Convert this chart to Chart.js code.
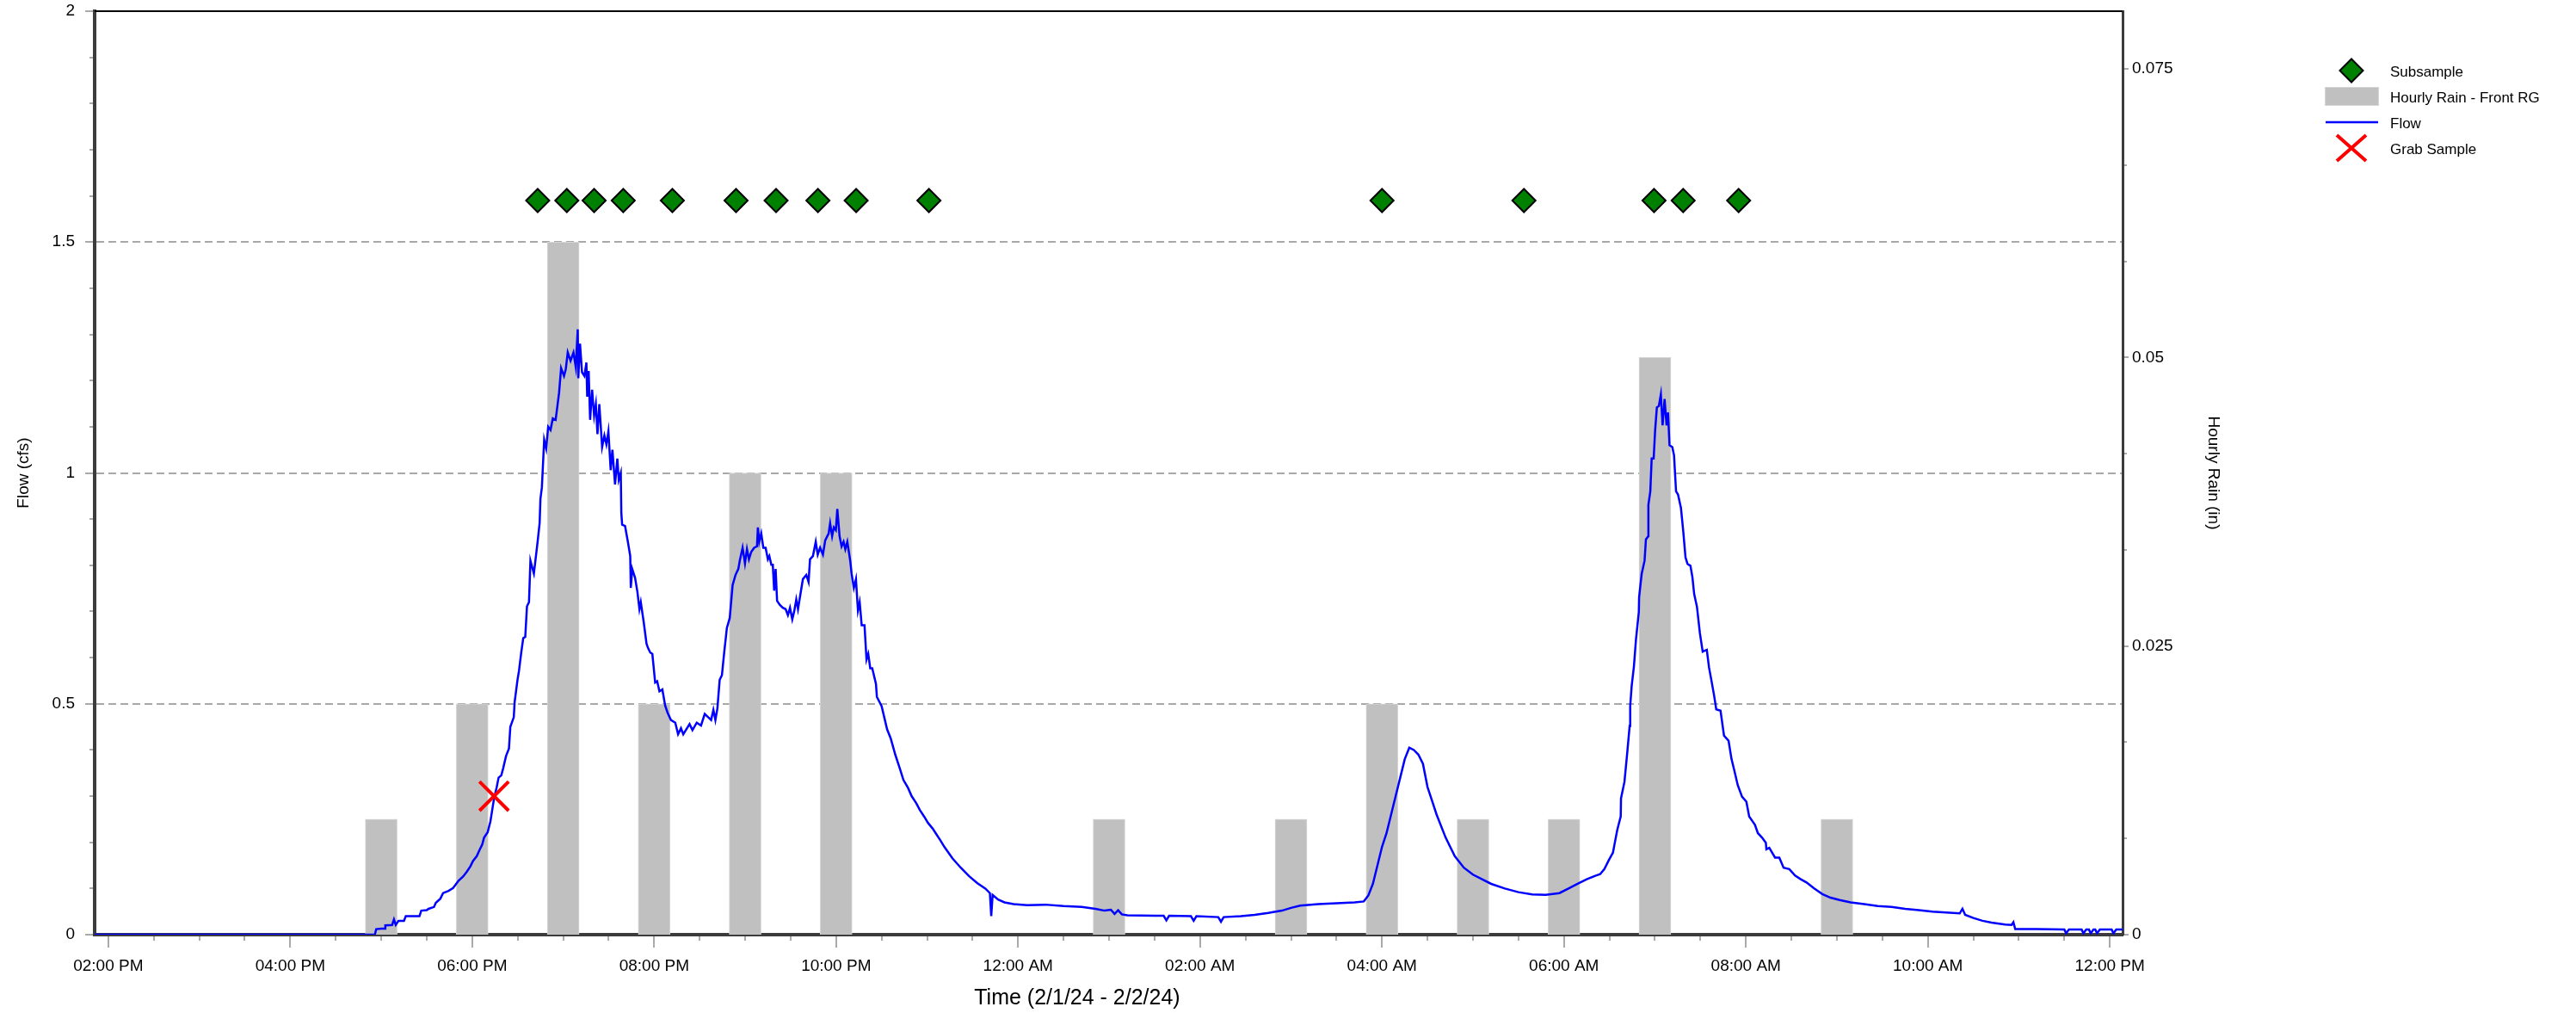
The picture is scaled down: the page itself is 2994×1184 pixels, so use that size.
<!DOCTYPE html>
<html>
<head>
<meta charset="utf-8">
<title>Flow and Hourly Rain</title>
<script src="https://cdn.jsdelivr.net/npm/chart.js@4.4.1/dist/chart.umd.min.js"></script>
<style>
    html, body { margin: 0; padding: 0; background: #fff; }
    #chart { display: block; }
</style>
</head>
<body>
<canvas id="chart" width="2994" height="1184"></canvas>
<script>
'use strict';

// times are hours after midnight on 2/1/24 (24 = midnight, 36 = noon on 2/2)
var flowReadings = [
    [13.85, 0], [16.93, 0], [16.945, 0.012], [17.0, 0.013], [17.04, 0.013], [17.045, 0.02],
    [17.12, 0.021], [17.14, 0.033], [17.16, 0.021], [17.19, 0.03], [17.25, 0.03], [17.27, 0.04],
    [17.42, 0.04], [17.44, 0.052], [17.5, 0.053], [17.52, 0.056], [17.58, 0.06], [17.6, 0.069],
    [17.65, 0.078], [17.68, 0.09], [17.74, 0.095], [17.79, 0.101], [17.85, 0.117], [17.9, 0.126],
    [17.94, 0.136], [17.98, 0.148], [18.01, 0.16], [18.05, 0.17], [18.08, 0.183], [18.11, 0.195],
    [18.13, 0.21], [18.17, 0.222], [18.2, 0.245], [18.22, 0.27], [18.24, 0.295], [18.27, 0.32],
    [18.29, 0.34], [18.32, 0.345], [18.34, 0.36], [18.372, 0.387], [18.404, 0.403], [18.419, 0.45],
    [18.457, 0.471], [18.466, 0.503], [18.498, 0.552], [18.514, 0.571], [18.539, 0.611], [18.561, 0.642],
    [18.583, 0.645], [18.602, 0.711], [18.624, 0.72], [18.64, 0.81], [18.678, 0.782], [18.719, 0.851],
    [18.741, 0.891], [18.75, 0.944], [18.766, 0.969], [18.791, 1.072], [18.813, 1.053], [18.835, 1.1],
    [18.861, 1.093], [18.886, 1.118], [18.917, 1.115], [18.939, 1.149], [18.955, 1.174], [18.977, 1.227],
    [19.009, 1.21], [19.028, 1.224], [19.05, 1.261], [19.081, 1.243], [19.113, 1.261], [19.138, 1.23],
    [19.16, 1.311], [19.166, 1.205], [19.185, 1.28], [19.207, 1.218], [19.233, 1.21], [19.255, 1.239],
    [19.264, 1.165], [19.28, 1.221], [19.296, 1.115], [19.318, 1.18], [19.34, 1.124], [19.359, 1.149],
    [19.377, 1.084], [19.397, 1.149], [19.428, 1.056], [19.453, 1.081], [19.475, 1.062], [19.497, 1.09],
    [19.522, 1.006], [19.541, 1.05], [19.57, 0.975], [19.595, 1.031], [19.611, 0.985], [19.633, 1.0],
    [19.639, 0.913], [19.648, 0.888], [19.68, 0.885], [19.711, 0.851], [19.737, 0.82], [19.743, 0.751],
    [19.759, 0.792], [19.79, 0.773], [19.816, 0.742], [19.838, 0.705], [19.853, 0.72], [19.885, 0.677],
    [19.916, 0.63], [19.932, 0.621], [19.957, 0.611], [19.98, 0.608], [20.011, 0.546], [20.033, 0.549],
    [20.058, 0.527], [20.09, 0.531], [20.121, 0.496], [20.147, 0.481], [20.184, 0.465], [20.232, 0.459],
    [20.263, 0.434], [20.295, 0.447], [20.32, 0.434], [20.348, 0.443], [20.389, 0.456], [20.421, 0.443],
    [20.468, 0.459], [20.515, 0.453], [20.556, 0.478], [20.594, 0.471], [20.626, 0.465], [20.651, 0.487],
    [20.673, 0.465], [20.695, 0.49], [20.72, 0.552], [20.745, 0.562], [20.768, 0.608], [20.799, 0.664],
    [20.831, 0.686], [20.862, 0.757], [20.894, 0.779], [20.925, 0.792], [20.941, 0.81], [20.972, 0.838],
    [20.998, 0.804], [21.02, 0.835], [21.042, 0.813], [21.067, 0.829], [21.099, 0.838], [21.13, 0.841],
    [21.14, 0.882], [21.155, 0.851], [21.177, 0.869], [21.2, 0.838], [21.225, 0.838], [21.25, 0.813],
    [21.266, 0.82], [21.288, 0.801], [21.304, 0.801], [21.319, 0.745], [21.335, 0.792], [21.351, 0.723],
    [21.382, 0.714], [21.414, 0.708], [21.445, 0.705], [21.47, 0.692], [21.493, 0.708], [21.518, 0.683],
    [21.54, 0.701], [21.562, 0.726], [21.581, 0.705], [21.609, 0.739], [21.635, 0.77], [21.672, 0.779],
    [21.697, 0.764], [21.713, 0.813], [21.745, 0.82], [21.776, 0.851], [21.798, 0.823], [21.824, 0.838],
    [21.855, 0.823], [21.88, 0.854], [21.918, 0.869], [21.934, 0.891], [21.956, 0.863], [21.975, 0.882],
    [21.997, 0.876], [22.013, 0.922], [22.038, 0.863], [22.06, 0.841], [22.082, 0.851], [22.101, 0.835],
    [22.123, 0.851], [22.155, 0.81], [22.17, 0.782], [22.195, 0.751], [22.218, 0.77], [22.24, 0.702],
    [22.259, 0.72], [22.281, 0.67], [22.312, 0.67], [22.334, 0.596], [22.353, 0.608], [22.375, 0.577],
    [22.397, 0.577], [22.438, 0.543], [22.448, 0.515], [22.5, 0.495], [22.53, 0.47], [22.56, 0.445],
    [22.6, 0.425], [22.65, 0.39], [22.7, 0.36], [22.74, 0.335], [22.79, 0.318], [22.83, 0.3],
    [22.88, 0.285], [22.92, 0.27], [22.97, 0.255], [23.01, 0.242], [23.06, 0.23], [23.1, 0.218],
    [23.15, 0.203], [23.19, 0.19], [23.24, 0.176], [23.28, 0.165], [23.37, 0.145], [23.46, 0.127],
    [23.55, 0.112], [23.64, 0.1], [23.69, 0.09], [23.705, 0.04], [23.72, 0.086], [23.78, 0.076],
    [23.85, 0.07], [23.95, 0.066], [24.1, 0.064], [24.3, 0.065], [24.5, 0.062], [24.7, 0.06],
    [24.85, 0.056], [24.95, 0.052], [25.02, 0.054], [25.06, 0.045], [25.1, 0.053], [25.14, 0.044],
    [25.2, 0.042], [25.5, 0.041], [25.6, 0.041], [25.63, 0.031], [25.66, 0.041], [25.9, 0.04],
    [25.93, 0.03], [25.96, 0.04], [26.2, 0.038], [26.23, 0.028], [26.26, 0.038], [26.45, 0.04],
    [26.6, 0.043], [26.75, 0.047], [26.9, 0.052], [27.0, 0.058], [27.1, 0.063], [27.3, 0.066],
    [27.5, 0.068], [27.7, 0.07], [27.8, 0.072], [27.85, 0.085], [27.9, 0.11], [27.95, 0.15],
    [28.0, 0.19], [28.05, 0.22], [28.1, 0.26], [28.15, 0.3], [28.2, 0.34], [28.25, 0.38],
    [28.3, 0.405], [28.35, 0.4], [28.4, 0.39], [28.45, 0.37], [28.5, 0.32], [28.55, 0.29],
    [28.6, 0.26], [28.7, 0.21], [28.8, 0.17], [28.9, 0.145], [29.0, 0.13], [29.1, 0.12],
    [29.2, 0.11], [29.35, 0.1], [29.5, 0.092], [29.65, 0.087], [29.8, 0.086], [29.95, 0.09],
    [30.05, 0.1], [30.15, 0.11], [30.25, 0.12], [30.35, 0.128], [30.397, 0.131], [30.444, 0.142],
    [30.492, 0.161], [30.539, 0.178], [30.555, 0.195], [30.586, 0.227], [30.624, 0.256], [30.627, 0.295],
    [30.665, 0.331], [30.696, 0.395], [30.722, 0.452], [30.728, 0.495], [30.744, 0.538], [30.769, 0.581],
    [30.791, 0.638], [30.823, 0.699], [30.826, 0.731], [30.854, 0.781], [30.886, 0.81], [30.901, 0.856],
    [30.927, 0.863], [30.928, 0.931], [30.949, 0.96], [30.964, 1.031], [30.986, 1.031], [31.002, 1.092],
    [31.021, 1.142], [31.043, 1.145], [31.065, 1.17], [31.084, 1.103], [31.106, 1.16], [31.128, 1.103],
    [31.144, 1.131], [31.16, 1.06], [31.191, 1.056], [31.21, 1.038], [31.232, 0.96], [31.254, 0.953],
    [31.286, 0.924], [31.311, 0.874], [31.336, 0.817], [31.358, 0.803], [31.39, 0.799], [31.412, 0.774],
    [31.431, 0.738], [31.462, 0.71], [31.494, 0.653], [31.525, 0.613], [31.57, 0.617], [31.595, 0.578],
    [31.626, 0.545], [31.651, 0.517], [31.674, 0.488], [31.721, 0.485], [31.759, 0.431], [31.809, 0.42],
    [31.841, 0.381], [31.872, 0.356], [31.91, 0.324], [31.957, 0.299], [32.005, 0.288], [32.036, 0.256],
    [32.099, 0.238], [32.131, 0.22], [32.178, 0.21], [32.219, 0.199], [32.225, 0.185], [32.257, 0.188],
    [32.32, 0.167], [32.367, 0.167], [32.414, 0.145], [32.477, 0.142], [32.54, 0.128], [32.603, 0.12],
    [32.666, 0.113], [32.75, 0.1], [32.84, 0.088], [32.93, 0.08], [33.03, 0.075], [33.15, 0.07],
    [33.3, 0.066], [33.45, 0.062], [33.6, 0.06], [33.75, 0.056], [33.9, 0.053], [34.05, 0.05],
    [34.2, 0.048], [34.35, 0.046], [34.38, 0.056], [34.41, 0.043], [34.5, 0.036], [34.6, 0.03],
    [34.7, 0.026], [34.85, 0.022], [34.92, 0.021], [34.94, 0.027], [34.96, 0.012], [35.2, 0.012],
    [35.5, 0.011], [35.52, 0.003], [35.55, 0.011], [35.69, 0.011], [35.71, 0.003], [35.74, 0.011],
    [35.77, 0.011], [35.79, 0.003], [35.82, 0.011], [35.84, 0.011], [35.86, 0.003], [35.89, 0.011],
    [36.02, 0.011], [36.04, 0.003], [36.07, 0.011], [36.14, 0.011]
];

// hourly rain totals, Front RG
var rainHours = [17, 18, 19, 20, 21, 22, 25, 27, 28, 29, 30, 31, 33];
var rainInches = [0.01, 0.02, 0.06, 0.02, 0.04, 0.04, 0.01, 0.01, 0.02, 0.01, 0.01, 0.05, 0.01];

// subsample pulls, shown as a row of markers at a fixed flow level
var subsampleHours = [18.72, 19.04, 19.34, 19.66, 20.2, 20.9, 21.34, 21.8, 22.22, 23.02,
    28.0, 29.56, 30.99, 31.31, 31.92];
var subsampleLevel = 1.59;

var grabHours = [18.24];
var grabCfs = [0.3];

var timeTicks = [14, 16, 18, 20, 22, 24, 26, 28, 30, 32, 34, 36];
var timeLabels = ['02:00 PM', '04:00 PM', '06:00 PM', '08:00 PM', '10:00 PM', '12:00 AM',
    '02:00 AM', '04:00 AM', '06:00 AM', '08:00 AM', '10:00 AM', '12:00 PM'];
var flowTicks = [0, 0.5, 1, 1.5, 2];
var flowLabels = ['0', '0.5', '1', '1.5', '2'];
var rainTicks = [0, 0.025, 0.05, 0.075];
var rainLabels = ['0', '0.025', '0.05', '0.075'];

var FONT = '"Liberation Sans", Arial, Helvetica, sans-serif';
var TIME_TITLE = 'Time (2/1/24 - 2/2/24)';

Chart.defaults.font.family = FONT;
Chart.defaults.color = '#000';

// short/long tick marks on all three axes, the top edge of the box and the time title
var axisMarks = {
    id: 'axisMarks',
    afterDraw: function (chart) {
        var ctx = chart.ctx;
        var area = chart.chartArea;
        var x = chart.scales.x;
        var y = chart.scales.y;
        var y1 = chart.scales.y1;
        var i, p;

        ctx.save();
        ctx.strokeStyle = '#000';
        ctx.lineWidth = 2;
        ctx.beginPath();
        ctx.moveTo(area.left, area.top);
        ctx.lineTo(area.right, area.top);
        ctx.stroke();

        ctx.strokeStyle = '#aaaaaa';
        ctx.lineWidth = 2;
        ctx.beginPath();
        for (i = 0; i <= 44; i++) {
            p = Math.round(x.getPixelForValue(14 + i / 2));
            ctx.moveTo(p, area.bottom + 2);
            ctx.lineTo(p, area.bottom + (i % 4 === 0 ? 15 : 7));
        }
        for (i = 0; i <= 20; i++) {
            p = Math.round(y.getPixelForValue(i / 10));
            ctx.moveTo(area.left - 2, p);
            ctx.lineTo(area.left - (i % 5 === 0 ? 11 : 6), p);
        }
        for (i = 0; i <= 9; i++) {
            p = Math.round(y1.getPixelForValue(i * 0.025 / 3));
            ctx.moveTo(area.right + 2, p);
            ctx.lineTo(area.right + (i % 3 === 0 ? 7 : 5), p);
        }
        ctx.stroke();

        ctx.fillStyle = '#000';
        ctx.font = '25px ' + FONT;
        ctx.textAlign = 'center';
        ctx.textBaseline = 'middle';
        ctx.fillText(TIME_TITLE, area.left + area.width * 0.4845, chart.height - 24);
        ctx.restore();
    }
};

// legend to the right of the rain axis, using each dataset's own colours
var sideLegend = {
    id: 'sideLegend',
    afterDraw: function (chart) {
        var ctx = chart.ctx;
        var sets = chart.data.datasets;
        var cx = chart.chartArea.right + 266;
        var tx = chart.chartArea.right + 311;
        var top = 82;
        var step = 30;

        ctx.save();
        sets.forEach(function (ds) {
            var cy = top + ds.legendRow * step;
            ctx.beginPath();
            if (ds.legendRow === 0) {
                ctx.moveTo(cx - 13.5, cy);
                ctx.lineTo(cx, cy - 13.5);
                ctx.lineTo(cx + 13.5, cy);
                ctx.lineTo(cx, cy + 13.5);
                ctx.closePath();
                ctx.fillStyle = ds.backgroundColor;
                ctx.fill();
                ctx.lineWidth = ds.borderWidth;
                ctx.strokeStyle = ds.borderColor;
                ctx.stroke();
            } else if (ds.legendRow === 1) {
                ctx.fillStyle = ds.backgroundColor;
                ctx.fillRect(cx - 31, cy - 11, 63, 22);
                ctx.lineWidth = 1;
                ctx.strokeStyle = ds.borderColor;
                ctx.strokeRect(cx - 30.5, cy - 10.5, 62, 21);
            } else if (ds.legendRow === 2) {
                ctx.moveTo(cx - 30, cy);
                ctx.lineTo(cx + 31, cy);
                ctx.lineWidth = ds.borderWidth;
                ctx.strokeStyle = ds.borderColor;
                ctx.stroke();
            } else {
                ctx.moveTo(cx - 17, cy - 15);
                ctx.lineTo(cx + 17, cy + 15);
                ctx.moveTo(cx + 17, cy - 15);
                ctx.lineTo(cx - 17, cy + 15);
                ctx.lineWidth = ds.borderWidth;
                ctx.strokeStyle = ds.borderColor;
                ctx.stroke();
            }
            ctx.fillStyle = '#000';
            ctx.font = '17px ' + FONT;
            ctx.textAlign = 'left';
            ctx.textBaseline = 'middle';
            ctx.fillText(ds.label, tx, cy + 2.5);
        });
        ctx.restore();
    }
};

drawChart();

function pairs(xs, ys) {
    return xs.map(function (v, i) { return { x: v, y: ys[i] }; });
}

// vertical axes: fixed width, and no extra room reserved above/below for the end labels
function fitSide(width) {
    return function (s) {
        s.width = width;
        s.paddingTop = 0;
        s.paddingBottom = 0;
    };
}

function drawChart() {
    var ctx = document.getElementById('chart').getContext('2d');
    var myChart = new Chart(ctx, {
        data: {
            datasets: [{
                type: 'scatter',
                label: 'Subsample',
                legendRow: 0,
                order: 1,
                yAxisID: 'y',
                data: subsampleHours.map(function (h) { return { x: h, y: subsampleLevel }; }),
                pointStyle: 'rectRot',
                pointRadius: 13.5,
                pointHoverRadius: 13.5,
                backgroundColor: '#008000',
                borderColor: '#000',
                borderWidth: 2
            }, {
                type: 'bar',
                label: 'Hourly Rain - Front RG',
                legendRow: 1,
                order: 4,
                yAxisID: 'y1',
                data: pairs(rainHours, rainInches),
                barThickness: 37,
                backgroundColor: '#c0c0c0',
                borderColor: '#d6d6d6',
                borderWidth: 1
            }, {
                type: 'line',
                label: 'Flow',
                legendRow: 2,
                order: 2,
                yAxisID: 'y',
                data: flowReadings.map(function (r) { return { x: r[0], y: r[1] }; }),
                borderColor: '#0000ff',
                borderWidth: 2.5,
                pointRadius: 0,
                tension: 0,
                fill: false
            }, {
                type: 'scatter',
                label: 'Grab Sample',
                legendRow: 3,
                order: 0,
                yAxisID: 'y',
                data: pairs(grabHours, grabCfs),
                pointStyle: 'crossRot',
                pointRadius: 24,
                pointHoverRadius: 24,
                borderColor: '#ff0000',
                backgroundColor: '#ff0000',
                borderWidth: 4
            }]
        },
        options: {
            responsive: false,
            animation: false,
            events: [],
            layout: {
                autoPadding: false,
                padding: { left: 0, right: 406, top: 13, bottom: 0 }
            },
            plugins: {
                legend: { display: false },
                tooltip: { enabled: false }
            },
            scales: {
                x: {
                    type: 'linear',
                    position: 'bottom',
                    offset: false,
                    min: 13.85,
                    max: 36.14,
                    afterBuildTicks: function (s) {
                        s.ticks = timeTicks.map(function (v) { return { value: v }; });
                    },
                    afterFit: function (s) { s.height = 98; },
                    ticks: {
                        autoSkip: false,
                        maxRotation: 0,
                        padding: 25,
                        font: { size: 19 },
                        callback: function (v, i) { return timeLabels[i]; }
                    },
                    grid: { display: false, drawTicks: false, offset: false },
                    border: { display: true, width: 4, color: '#3c3c3c' }
                },
                y: {
                    type: 'linear',
                    position: 'left',
                    min: 0,
                    max: 2,
                    afterBuildTicks: function (s) {
                        s.ticks = flowTicks.map(function (v) { return { value: v }; });
                    },
                    afterFit: fitSide(110),
                    ticks: {
                        padding: 23,
                        font: { size: 19 },
                        callback: function (v, i) { return flowLabels[i]; }
                    },
                    grid: {
                        drawTicks: false,
                        lineWidth: 2,
                        color: function (c) {
                            return c.tick && c.tick.value > 0 && c.tick.value < 2 ? '#a8a8a8' : 'rgba(0,0,0,0)';
                        }
                    },
                    border: { display: true, width: 4, color: '#3c3c3c', dash: [9, 5] },
                    title: {
                        display: true,
                        text: 'Flow (cfs)',
                        font: { size: 19 },
                        padding: { top: 16, bottom: 0 }
                    }
                },
                y1: {
                    type: 'linear',
                    position: 'right',
                    min: 0,
                    max: 0.08,
                    afterBuildTicks: function (s) {
                        s.ticks = rainTicks.map(function (v) { return { value: v }; });
                    },
                    afterFit: fitSide(121),
                    ticks: {
                        padding: 11,
                        font: { size: 19 },
                        callback: function (v, i) { return rainLabels[i]; }
                    },
                    grid: { display: false, drawTicks: false },
                    border: { display: true, width: 3, color: '#3c3c3c' },
                    title: {
                        display: true,
                        text: 'Hourly Rain (in)',
                        font: { size: 19 },
                        padding: { top: 4, bottom: 0 }
                    }
                }
            }
        },
        plugins: [axisMarks, sideLegend]
    });
}
</script>
</body>
</html>
